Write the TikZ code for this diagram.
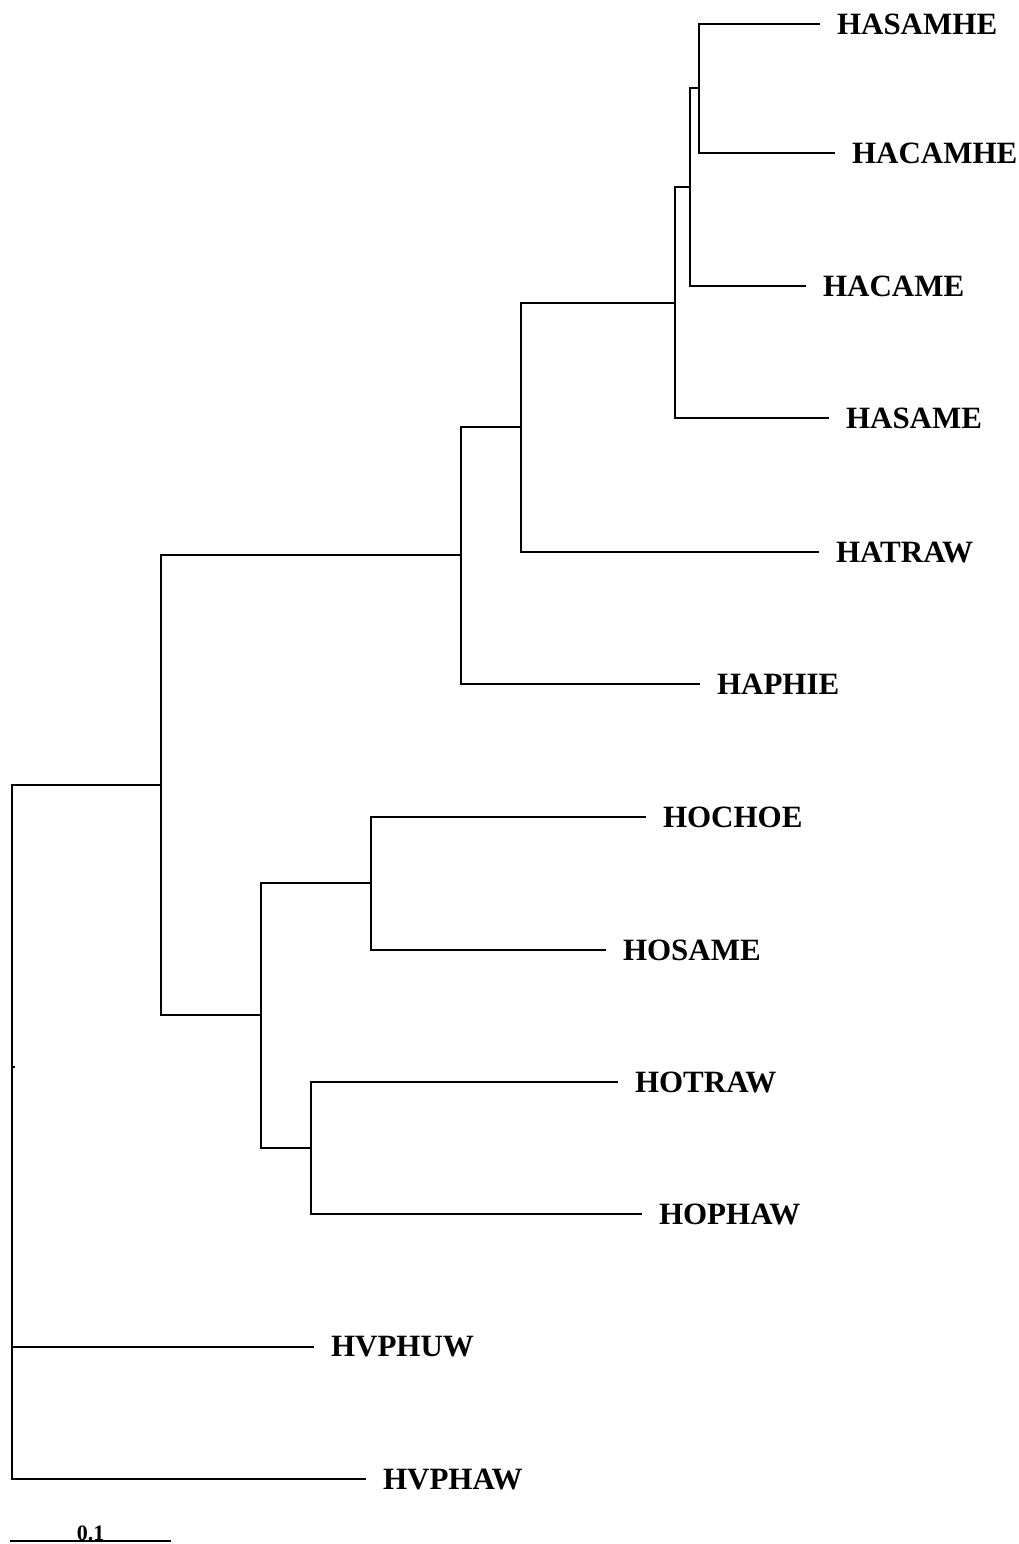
\documentclass[tikz,border=0pt]{standalone}
\usepackage{fontspec}
\setmainfont{Liberation Serif}

\begin{document}
\begin{tikzpicture}[x=1pt,y=-1pt,line width=2.5pt,line join=miter,
    taxon/.style={anchor=west,inner sep=0pt,outer xsep=17pt,
      font=\fontsize{31}{31}\selectfont\bfseries},
    barlabel/.style={anchor=base,inner sep=0pt,
      font=\fontsize{22}{22}\selectfont\bfseries}]
  \useasboundingbox (0,0) rectangle (1019,1544);

  % tips, placed at the end of their branch
  \node[taxon] (hasamhe) at (820,24)   {HASAMHE};
  \node[taxon] (hacamhe) at (835,153)  {HACAMHE};
  \node[taxon] (hacame)  at (806,286)  {HACAME};
  \node[taxon] (hasame)  at (829,418)  {HASAME};
  \node[taxon] (hatraw)  at (819,552)  {HATRAW};
  \node[taxon] (haphie)  at (700,684)  {HAPHIE};
  \node[taxon] (hochoe)  at (646,817)  {HOCHOE};
  \node[taxon] (hosame)  at (606,950)  {HOSAME};
  \node[taxon] (hotraw)  at (618,1082) {HOTRAW};
  \node[taxon] (hophaw)  at (642,1214) {HOPHAW};
  \node[taxon] (hvphuw)  at (314,1347) {HVPHUW};
  \node[taxon] (hvphaw)  at (366,1479) {HVPHAW};

  % inner nodes
  \coordinate (a1) at (699,88);
  \coordinate (a2) at (690,187);
  \coordinate (a3) at (675,303);
  \coordinate (a4) at (521,427);
  \coordinate (a5) at (461,555);
  \coordinate (o1) at (371,883);
  \coordinate (o2) at (311,1148);
  \coordinate (o3) at (261,1015);
  \coordinate (b1) at (161,785);
  \coordinate (root) at (12,1067);

  \draw (a1) |- (hasamhe);
  \draw (a1) |- (hacamhe);
  \draw (a2) |- (a1);
  \draw (a2) |- (hacame);
  \draw (a3) |- (a2);
  \draw (a3) |- (hasame);
  \draw (a4) |- (a3);
  \draw (a4) |- (hatraw);
  \draw (a5) |- (a4);
  \draw (a5) |- (haphie);

  \draw (o1) |- (hochoe);
  \draw (o1) |- (hosame);
  \draw (o2) |- (hotraw);
  \draw (o2) |- (hophaw);
  \draw (o3) |- (o1);
  \draw (o3) |- (o2);

  \draw (b1) |- (a5);
  \draw (b1) |- (o3);

  \draw (root) |- (b1);
  \draw (root) |- (hvphuw);
  \draw (root) |- (hvphaw);
  \draw (root) -- ++(3,0);

  % scale bar
  \coordinate (sb0) at (10,1541);
  \coordinate (sb1) at (171,1541);
  \draw (sb0) -- (sb1);
  \node[barlabel] (sblabel) at (90.5,1540) {0.1};
\end{tikzpicture}
\end{document}
